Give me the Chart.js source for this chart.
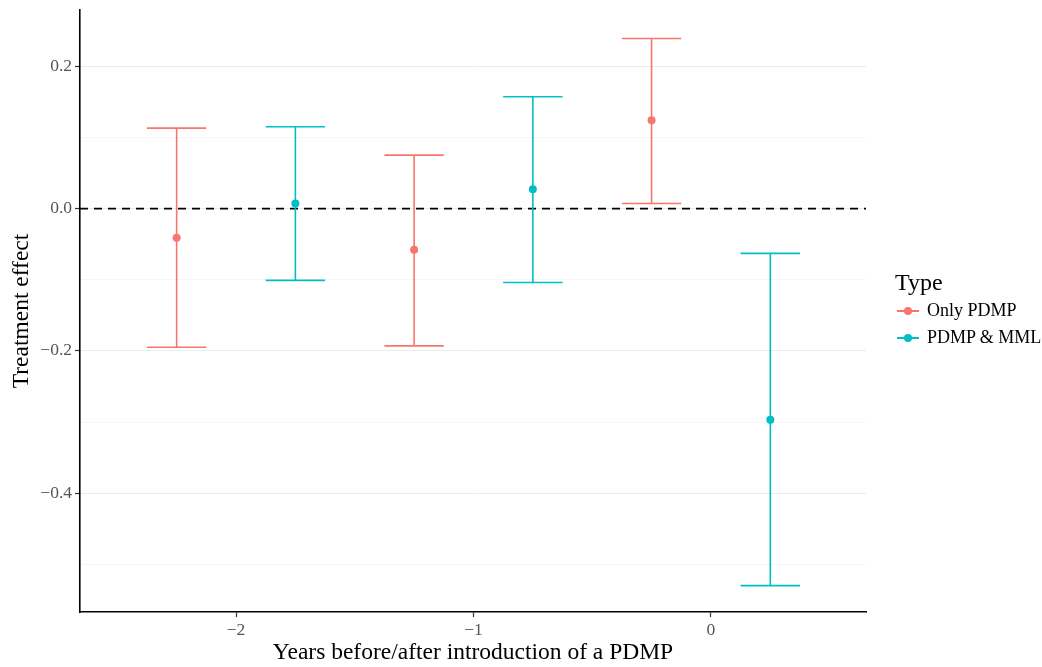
<!DOCTYPE html>
<html>
<head>
<meta charset="utf-8">
<script src="https://cdn.jsdelivr.net/npm/chart.js@4"></script>
<style>
    body { margin: 0; background: #fff; }
    #wrap { position: relative; width: 1042px; height: 667px; }
    #legend { position: absolute; left: 895px; top: 268px; font-family: "Liberation Serif", serif; color: #000; }
    #legend .title { font-size: 24px; line-height: 28px; margin-bottom: 1px; }
    #legend .item { position: relative; height: 27px; font-size: 18px; line-height: 27px; padding-left: 32px; }
    #legend .key { position: absolute; left: 2px; top: 13px; width: 22px; height: 2px; }
    #legend .dot { position: absolute; left: 7px; top: -3px; width: 8px; height: 8px; border-radius: 50%; }
</style>
</head>
<body>
<div id="wrap">
    <canvas id="myChart" width="1042" height="667"></canvas>
    <div id="legend">
        <div class="title">Type</div>
        <div class="item"><span class="key" style="background:#F8766D"><span class="dot" style="background:#F8766D"></span></span>Only PDMP</div>
        <div class="item"><span class="key" style="background:#00BFC4"><span class="dot" style="background:#00BFC4"></span></span>PDMP &amp; MML</div>
    </div>
</div>
<script>
// data
const onlyX = [-2.25, -1.25, -0.25];
const onlyEst = [-0.041, -0.058, 0.124];
const onlyLow = [-0.195, -0.193, 0.007];
const onlyHigh = [0.113, 0.075, 0.239];

const mmlX = [-1.75, -0.75, 0.25];
const mmlEst = [0.007, 0.027, -0.297];
const mmlLow = [-0.101, -0.104, -0.530];
const mmlHigh = [0.115, 0.157, -0.063];

const xTicks = [-2, -1, 0];
const yTicks = [-0.5, -0.4, -0.3, -0.2, -0.1, 0, 0.1, 0.2];

const capHalf = 0.125;
const serif = "'Liberation Serif', serif";

function fmtNum(v, digits) {
    const s = Math.abs(v).toFixed(digits);
    return (v < 0 ? '\u2212' : '') + s;
}

function isMajor(v) {
    return Math.abs(Math.round(v * 10)) % 2 === 0;
}

function toPoints(xs, ys, lows, highs) {
    return xs.map((x, i) => ({ x: x, y: ys[i], lo: lows[i], hi: highs[i] }));
}

const errorBars = {
    id: 'errorBars',
    beforeDatasetsDraw(chart) {
        const c = chart.ctx;
        const xs = chart.scales.x;
        const ys = chart.scales.y;
        const area = chart.chartArea;

        // dashed zero line
        c.save();
        c.strokeStyle = '#000';
        c.lineWidth = 1.8;
        c.setLineDash([8, 6]);
        c.beginPath();
        c.moveTo(area.left, ys.getPixelForValue(0));
        c.lineTo(area.right, ys.getPixelForValue(0));
        c.stroke();
        c.restore();

        chart.data.datasets.forEach(ds => {
            c.save();
            c.strokeStyle = ds.borderColor;
            c.lineWidth = 1.6;
            ds.data.forEach(p => {
                const px = xs.getPixelForValue(p.x);
                const pl = xs.getPixelForValue(p.x - capHalf);
                const pr = xs.getPixelForValue(p.x + capHalf);
                const top = ys.getPixelForValue(p.hi);
                const bot = ys.getPixelForValue(p.lo);
                c.beginPath();
                c.moveTo(px, top); c.lineTo(px, bot);
                c.moveTo(pl, top); c.lineTo(pr, top);
                c.moveTo(pl, bot); c.lineTo(pr, bot);
                c.stroke();
            });
            c.restore();
        });
    }
};

const ctx = document.getElementById('myChart').getContext('2d');
const myChart = new Chart(ctx, {
    type: 'scatter',
    data: {
        datasets: [{
            label: 'Only PDMP',
            data: toPoints(onlyX, onlyEst, onlyLow, onlyHigh),
            backgroundColor: '#F8766D',
            borderColor: '#F8766D',
            pointRadius: 4,
            pointBorderWidth: 0
        }, {
            label: 'PDMP & MML',
            data: toPoints(mmlX, mmlEst, mmlLow, mmlHigh),
            backgroundColor: '#00BFC4',
            borderColor: '#00BFC4',
            pointRadius: 4,
            pointBorderWidth: 0
        }]
    },
    options: {
        responsive: false,
        animation: false,
        layout: { padding: { top: 10, right: 176, left: 0, bottom: 0 } },
        plugins: {
            legend: { display: false },
            tooltip: { enabled: false }
        },
        scales: {
            x: {
                type: 'linear',
                min: -2.657,
                max: 0.653,
                afterBuildTicks: scale => { scale.ticks = xTicks.map(v => ({ value: v })); },
                afterFit: scale => { scale.height = 55; scale.paddingLeft = 0; scale.paddingRight = 0; },
                border: { color: '#000', width: 1.6 },
                grid: { drawOnChartArea: false, drawTicks: true, tickLength: 5, tickColor: '#333', tickWidth: 1.2 },
                ticks: {
                    color: '#555',
                    font: { family: serif, size: 17.5 },
                    padding: 3,
                    callback: v => fmtNum(v, 0)
                },
                title: {
                    display: true,
                    text: 'Years before/after introduction of a PDMP',
                    color: '#000',
                    font: { family: serif, size: 23.5 },
                    padding: { top: 0, bottom: 0 }
                }
            },
            y: {
                type: 'linear',
                min: -0.567,
                max: 0.279,
                afterBuildTicks: scale => { scale.ticks = yTicks.map(v => ({ value: v })); },
                afterFit: scale => { scale.width = 80; scale.paddingTop = 0; scale.paddingBottom = 0; },
                border: { color: '#000', width: 1.6 },
                grid: {
                    color: c => isMajor(c.tick.value) ? '#ebebeb' : '#f6f6f6',
                    lineWidth: 1,
                    tickLength: 5,
                    tickColor: c => isMajor(c.tick.value) ? '#333' : 'rgba(0,0,0,0)',
                    tickWidth: 1.2
                },
                ticks: {
                    color: '#555',
                    font: { family: serif, size: 17.5 },
                    padding: 3,
                    callback: v => isMajor(v) ? fmtNum(v, 1) : ''
                },
                title: {
                    display: true,
                    text: 'Treatment effect',
                    color: '#000',
                    font: { family: serif, size: 23.5 },
                    padding: { top: 8, bottom: 0 }
                }
            }
        }
    },
    plugins: [errorBars]
});
</script>
</body>
</html>
